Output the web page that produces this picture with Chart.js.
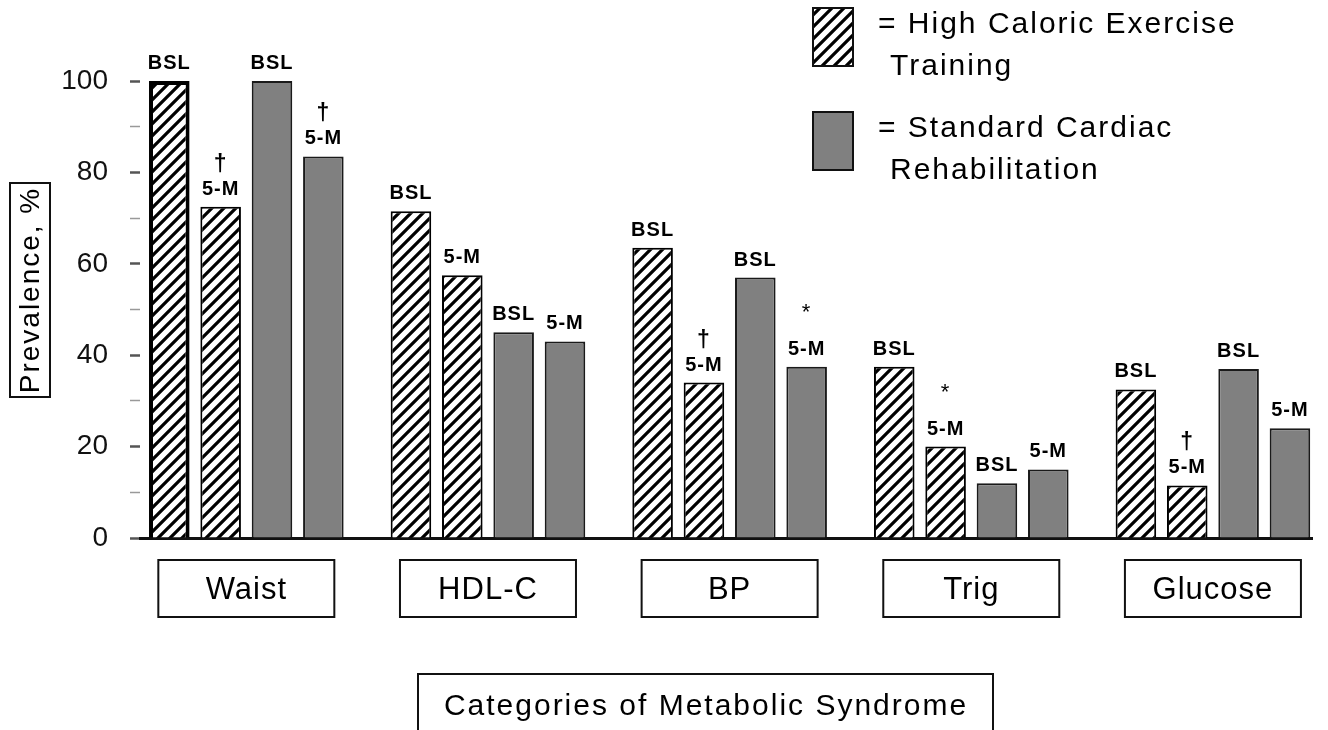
<!DOCTYPE html>
<html>
<head>
<meta charset="utf-8">
<script src="https://cdn.jsdelivr.net/npm/chart.js@4.4.1/dist/chart.umd.min.js"></script>
<style>
  html, body { margin: 0; padding: 0; background: #fff; }
  #wrap { width: 1328px; height: 730px; position: relative; }
</style>
</head>
<body>
<div id="wrap"><canvas id="chart"></canvas></div>
<script>
// Data
const categories = ['Waist', 'HDL-C', 'BP', 'Trig', 'Glucose'];
const hceBaseline = [100, 71.5, 63.5, 37.5, 32.5];
const hceFiveMonth = [72.5, 57.5, 34, 20, 11.5];
const scrBaseline = [100, 45, 57, 12, 37];
const scrFiveMonth = [83.5, 43, 37.5, 15, 24];
const hceMarks = ['†', '', '†', '*', '†'];
const scrMarks = ['†', '', '*', '', ''];
const timeTags = ['BSL', '5-M'];
const yTickLabels = [0, 20, 40, 60, 80, 100];
const legendLines = [
    ['= High Caloric Exercise', 'Training'],
    ['= Standard Cardiac', 'Rehabilitation']
];
const xTitle = 'Categories of Metabolic Syndrome';
const yTitle = 'Prevalence, %';

const FONT = '"Liberation Sans", Arial, sans-serif';
const GRAY = '#808080';

// diagonal hatch pattern
function makeHatch() {
    const s = 12;
    const tile = document.createElement('canvas');
    tile.width = s; tile.height = s;
    const c = tile.getContext('2d');
    c.fillStyle = '#fff';
    c.fillRect(0, 0, s, s);
    c.strokeStyle = '#000';
    c.lineWidth = 3.2;
    c.beginPath();
    c.moveTo(-s / 2, s / 2); c.lineTo(s / 2, -s / 2);
    c.moveTo(0, s); c.lineTo(s, 0);
    c.moveTo(s / 2, s * 1.5); c.lineTo(s * 1.5, s / 2);
    c.stroke();
    return c.createPattern(tile, 'repeat');
}

document.addEventListener('DOMContentLoaded', () => {
    const ctx0 = document.getElementById('chart').getContext('2d');
    const hatch = makeHatch();

    const toPoints = vals => vals.map((v, i) => ({ x: i, y: v }));

    const datasets = [
        { label: 'High Caloric Exercise Training', data: toPoints(hceBaseline), tag: timeTags[0], marks: null,
          backgroundColor: hatch, borderColor: '#000', borderWidth: c => c.dataIndex === 0 ? 4 : 2 },
        { label: 'High Caloric Exercise Training', data: toPoints(hceFiveMonth), tag: timeTags[1], marks: hceMarks,
          backgroundColor: hatch, borderColor: '#000', borderWidth: 2 },
        { label: 'Standard Cardiac Rehabilitation', data: toPoints(scrBaseline), tag: timeTags[0], marks: null,
          backgroundColor: GRAY, borderColor: '#1a1a1a', borderWidth: 2 },
        { label: 'Standard Cardiac Rehabilitation', data: toPoints(scrFiveMonth), tag: timeTags[1], marks: scrMarks,
          backgroundColor: GRAY, borderColor: '#1a1a1a', borderWidth: 2 }
    ];

    // BSL / 5-M tags and significance marks above the bars
    const barTags = {
        id: 'barTags',
        afterDatasetsDraw(chart) {
            const ctx = chart.ctx;
            chart.data.datasets.forEach((ds, di) => {
                chart.getDatasetMeta(di).data.forEach((bar, i) => {
                    ctx.save();
                    ctx.fillStyle = '#000';
                    ctx.textAlign = 'center';
                    ctx.textBaseline = 'alphabetic';
                    ctx.font = 'bold 20px ' + FONT;
                    ctx.letterSpacing = '1px';
                    const base = bar.y - 12;
                    ctx.fillText(ds.tag, bar.x, base);
                    const mark = ds.marks ? ds.marks[i] : '';
                    if (mark === '†') {
                        ctx.font = 'bold 23px ' + FONT;
                        ctx.fillText(mark, bar.x, base - 24);
                    } else if (mark === '*') {
                        ctx.font = '22px ' + FONT;
                        ctx.fillText(mark, bar.x, base - 36);
                    }
                    ctx.restore();
                });
            });
        }
    };

    // boxed category labels, axis titles and legend
    const frame = {
        id: 'frame',
        afterDraw(chart) {
            const ctx = chart.ctx;
            const xs = chart.scales.x;
            ctx.save();
            ctx.strokeStyle = '#111';
            ctx.fillStyle = '#000';
            ctx.lineWidth = 2;
            ctx.textAlign = 'center';
            ctx.textBaseline = 'middle';
            ctx.letterSpacing = '1px';
            ctx.font = '31px ' + FONT;
            categories.forEach((name, i) => {
                const cx = xs.getPixelForValue(i);
                ctx.strokeRect(cx - 88, 560, 176, 57);
                ctx.fillText(name, cx, 590);
            });

            // x title
            ctx.letterSpacing = '2px';
            ctx.font = '30px ' + FONT;
            ctx.strokeRect(418, 674, 575, 80);
            ctx.textBaseline = 'alphabetic';
            ctx.fillText(xTitle, 706, 715);

            // y title
            ctx.strokeRect(10, 183, 40, 214);
            ctx.save();
            ctx.translate(31, 290);
            ctx.rotate(-Math.PI / 2);
            ctx.textBaseline = 'middle';
            ctx.font = '28px ' + FONT;
            ctx.fillText(yTitle, 0, 0);
            ctx.restore();

            // legend
            const swatches = [chart.data.datasets[0], chart.data.datasets[2]];
            const tops = [8, 112];
            ctx.textAlign = 'left';
            ctx.textBaseline = 'middle';
            ctx.font = '30px ' + FONT;
            swatches.forEach((ds, k) => {
                ctx.fillStyle = ds.backgroundColor;
                ctx.fillRect(813, tops[k], 40, 58);
                ctx.strokeStyle = '#111';
                ctx.strokeRect(813, tops[k], 40, 58);
                ctx.fillStyle = '#000';
                ctx.fillText(legendLines[k][0], 878, tops[k] + 17);
                ctx.fillText(legendLines[k][1], 890, tops[k] + 59);
            });
            ctx.restore();
        }
    };

    new Chart(ctx0, {
        type: 'bar',
        data: { datasets: datasets },
        options: {
            responsive: true,
            maintainAspectRatio: false,
            animation: false,
            layout: { padding: { top: 81, right: 16, left: 0, bottom: 0 } },
            datasets: { bar: { categoryPercentage: 0.85, barPercentage: 0.79 } },
            plugins: { legend: { display: false }, tooltip: { enabled: false } },
            scales: {
                x: {
                    type: 'linear',
                    offset: false,
                    min: -0.44,
                    max: 4.41,
                    afterBuildTicks: s => { s.ticks = categories.map((c, i) => ({ value: i })); },
                    afterFit: s => { s.height = 192; },
                    ticks: { display: false },
                    grid: { display: false, offset: false },
                    border: { display: true, color: '#111', width: 3 }
                },
                y: {
                    min: 0,
                    max: 100,
                    afterFit: s => { s.width = 140; },
                    ticks: {
                        stepSize: 10,
                        padding: 22,
                        color: '#111',
                        font: { family: FONT, size: 28 },
                        callback: v => yTickLabels.includes(v) ? v : ''
                    },
                    grid: {
                        drawOnChartArea: false,
                        tickLength: 10,
                        tickColor: c => c.tick && yTickLabels.includes(c.tick.value) ? '#555' : '#999',
                        tickWidth: c => c.tick && yTickLabels.includes(c.tick.value) ? 2.5 : 1.5
                    },
                    border: { display: false }
                }
            }
        },
        plugins: [barTags, frame]
    });
});
</script>
</body>
</html>
